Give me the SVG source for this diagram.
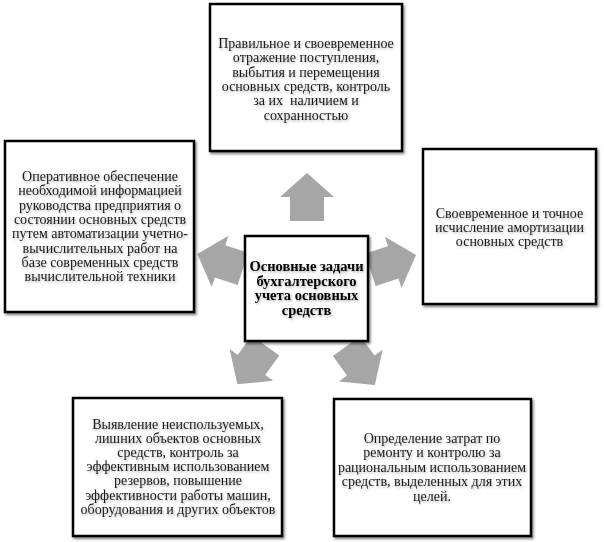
<svg xmlns="http://www.w3.org/2000/svg" xmlns:xlink="http://www.w3.org/1999/xlink" width="604" height="542" viewBox="0 0 604 542">
<style>
.box{fill:#fff;stroke:#000;stroke-width:2.5;filter:url(#sh)}
.t{font-family:'Liberation Serif','Times New Roman',serif;font-size:14px;fill:#1a1a1a;text-anchor:middle;filter:url(#tsh)}
.b{font-weight:bold;font-size:14.5px;fill:#000}
.arr{fill:#a6a6a6}
</style>
<defs>
<filter id="sh" x="-10%" y="-10%" width="120%" height="120%">
<feDropShadow dx="1.5" dy="2" stdDeviation="1.2" flood-color="#000" flood-opacity="0.45"/>
</filter>
<filter id="tsh" x="-10%" y="-30%" width="120%" height="160%">
<feDropShadow dx="1" dy="1.5" stdDeviation="1" flood-color="#000" flood-opacity="0.3"/>
</filter>
<polygon id="arr" class="arr" points="0,-24 27,0 17,0 17,24 -17,24 -17,0 -27,0"/>
</defs>
<rect width="604" height="542" fill="#fff"/>
<g id="connectors">
<use xlink:href="#arr" transform="translate(307 197)"/>
<use xlink:href="#arr" transform="rotate(72 306.5 290) translate(307 199)"/>
<use xlink:href="#arr" transform="rotate(144 306.5 290) translate(307 197)"/>
<use xlink:href="#arr" transform="rotate(216 306.5 290) translate(307 197)"/>
<use xlink:href="#arr" transform="rotate(288 306.5 290) translate(307 199)"/>
</g>
<g id="top" font-family="Liberation Serif, serif">
<rect class="box" x="210" y="4" width="192" height="147"/>
<text class="t" x="306" y="48">Правильное и своевременное</text>
<text class="t" x="306" y="62.3">отражение поступления,</text>
<text class="t" x="306" y="76.6">выбытия и перемещения</text>
<text class="t" x="306" y="90.9">основных средств, контроль</text>
<text class="t" x="306" y="105.2" xml:space="preserve">за их  наличием и</text>
<text class="t" x="306" y="119.5">сохранностью</text>
</g>
<g id="left">
<rect class="box" x="5" y="141" width="189" height="171"/>
<text class="t" x="100" y="181">Оперативное обеспечение</text>
<text class="t" x="100" y="195.3">необходимой информацией</text>
<text class="t" x="100" y="209.6">руководства предприятия о</text>
<text class="t" x="100" y="223.9">состоянии основных средств</text>
<text class="t" x="100" y="238.2">путем автоматизации учетно-</text>
<text class="t" x="100" y="252.5">вычислительных работ на</text>
<text class="t" x="100" y="266.8">базе современных средств</text>
<text class="t" x="100" y="281.1">вычислительной техники</text>
</g>
<g id="center">
<rect class="box" x="245" y="236" width="123" height="105"/>
<text class="t b" x="306.5" y="271">Основные задачи</text>
<text class="t b" x="306.5" y="285.5">бухгалтерского</text>
<text class="t b" x="306.5" y="300">учета основных</text>
<text class="t b" x="306.5" y="314.5">средств</text>
</g>
<g id="right">
<rect class="box" x="423" y="149" width="173" height="155"/>
<text class="t" x="509.5" y="217.5">Своевременное и точное</text>
<text class="t" x="509.5" y="231.8">исчисление амортизации</text>
<text class="t" x="509.5" y="246.1">основных средств</text>
</g>
<g id="bottomleft">
<rect class="box" x="73" y="398" width="209" height="138"/>
<text class="t" x="178" y="428.5">Выявление неиспользуемых,</text>
<text class="t" x="178" y="442.7">лишних объектов основных</text>
<text class="t" x="178" y="456.9">средств, контроль за</text>
<text class="t" x="178" y="471.1">эффективным использованием</text>
<text class="t" x="178" y="485.3">резервов, повышение</text>
<text class="t" x="178" y="499.5">эффективности работы машин,</text>
<text class="t" x="178" y="513.7">оборудования и других объектов</text>
</g>
<g id="bottomright">
<rect class="box" x="334" y="399" width="197" height="137"/>
<text class="t" x="432" y="442.5">Определение затрат по</text>
<text class="t" x="432" y="457">ремонту и контролю за</text>
<text class="t" x="432" y="471.5">рациональным использованием</text>
<text class="t" x="432" y="486">средств, выделенных для этих</text>
<text class="t" x="432" y="500.5">целей.</text>
</g>
</svg>
